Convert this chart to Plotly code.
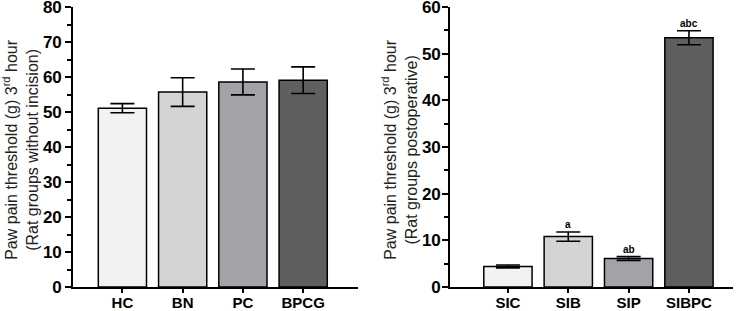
import plotly.graph_objects as go

# Left panel data
left_groups = ["HC", "BN", "PC", "BPCG"]
left_means = [51.1, 55.7, 58.6, 59.1]
left_err = [1.3, 4.1, 3.7, 3.8]
left_colors = ["#f2f2f2", "#d4d4d4", "#a3a2a7", "#5f5f5f"]

# Right panel data
right_groups = ["SIC", "SIB", "SIP", "SIBPC"]
right_means = [4.4, 10.8, 6.1, 53.4]
right_err = [0.3, 1.0, 0.4, 1.5]
right_colors = ["#f2f2f2", "#d4d4d4", "#a3a2a7", "#5f5f5f"]
right_letters = ["", "a", "ab", "abc"]

left_title = "Paw pain threshold (g) 3<sup>rd</sup> hour<br>(Rat groups without incision)"
right_title = "Paw pain threshold (g) 3<sup>rd</sup> hour<br>(Rat groups postoperative)"

FONT = "Liberation Sans"

fig = go.Figure()

fig.add_trace(go.Bar(
    x=left_groups, y=left_means, width=0.8,
    marker=dict(color=left_colors, line=dict(color="black", width=1.5)),
    error_y=dict(type="data", array=left_err, color="black", thickness=1.6, width=12),
    xaxis="x", yaxis="y", showlegend=False,
))
fig.add_trace(go.Bar(
    x=right_groups, y=right_means, width=0.8,
    marker=dict(color=right_colors, line=dict(color="black", width=1.5)),
    error_y=dict(type="data", array=right_err, color="black", thickness=1.6, width=12),
    xaxis="x2", yaxis="y2", showlegend=False,
))

for g, m, e, t in zip(right_groups, right_means, right_err, right_letters):
    if t:
        fig.add_annotation(x=g, y=m + e, text=f"<b>{t}</b>", xref="x2", yref="y2",
                           showarrow=False, yanchor="bottom", yshift=0,
                           font=dict(family=FONT, size=10, color="black"))

tfont = dict(family=FONT, size=16, color="#222")
for xc, txt in [(21.0 / 740, left_title), (400.0 / 740, right_title)]:
    fig.add_annotation(x=xc, y=0.49, xref="paper", yref="paper", text=txt,
                       textangle=-90, showarrow=False, xanchor="center", yanchor="middle",
                       font=tfont)

base = dict(showline=True, linecolor="black", linewidth=1.6, ticks="outside",
            tickcolor="black", tickwidth=1.5, showgrid=False, zeroline=False,
            automargin=False, ticklabeloverflow="allow")

yfont = dict(family=FONT, size=17, color="black", weight=700)
xfont = dict(family=FONT, size=15, color="black", weight=700)

fig.update_layout(
    width=740, height=311,
    margin=dict(l=0, r=0, t=7, b=24, autoexpand=False),
    paper_bgcolor="white", plot_bgcolor="white",
    xaxis=dict(domain=[73/740, 358/740], range=[-0.82, 3.91], ticklen=4,
               ticklabelstandoff=-3, tickfont=xfont, anchor="y", **base),
    yaxis=dict(range=[0, 80], dtick=10, ticklen=6, anchor="x", tickfont=yfont,
               minor=dict(dtick=5, ticks="outside", ticklen=4, tickcolor="black", tickwidth=1.5),
               **base),
    xaxis2=dict(domain=[450/740, 733/740], range=[-0.96, 3.73], ticklen=4,
                ticklabelstandoff=-3, tickfont=xfont, anchor="y2", **base),
    yaxis2=dict(range=[0, 60], dtick=10, ticklen=6, anchor="x2", tickfont=yfont,
                ticklabelstandoff=-2,
                minor=dict(dtick=5, ticks="outside", ticklen=4, tickcolor="black", tickwidth=1.5),
                **base),
)

fig.write_html("out.html", config={"displayModeBar": False},
               post_script="document.body.style.margin='0';document.body.style.overflow='hidden';")
